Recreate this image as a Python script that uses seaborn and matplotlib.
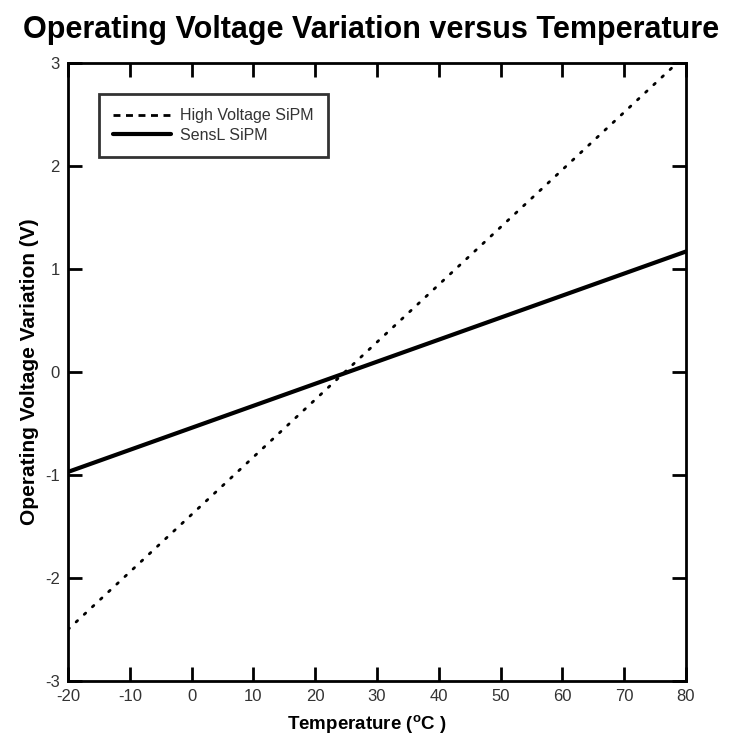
import numpy as np
import pandas as pd
import matplotlib
matplotlib.use("Agg")
import matplotlib.pyplot as plt
import seaborn as sns
from matplotlib.lines import Line2D

# data (straight lines, end points)
temps = [-20, 80]
hv_sipm = [-2.50, 3.08]
sensl_sipm = [-0.97, 1.17]
series_names = ["High Voltage SiPM", "SensL SiPM"]
x_ticks = [-20, -10, 0, 10, 20, 30, 40, 50, 60, 70, 80]
y_ticks = [-3, -2, -1, 0, 1, 2, 3]

df = pd.DataFrame({
    "Temperature": temps + temps,
    "Voltage": hv_sipm + sensl_sipm,
    "Device": [series_names[0]] * 2 + [series_names[1]] * 2,
})

sns.set_style("white")
plt.rcParams["font.family"] = ["Liberation Sans", "DejaVu Sans"]
plt.rcParams["mathtext.fontset"] = "custom"
plt.rcParams["mathtext.rm"] = "Liberation Sans:bold"
plt.rcParams["mathtext.bf"] = "Liberation Sans:bold"
plt.rcParams["axes.unicode_minus"] = False
plt.rcParams["text.color"] = "black"
plt.rcParams["axes.labelcolor"] = "black"

fig = plt.figure(figsize=(7.35, 7.36), dpi=100)
ax = fig.add_axes([0.0925, 0.0747, 0.8408, 0.8397])

sns.lineplot(data=df[df.Device == series_names[0]], x="Temperature", y="Voltage",
             color="black", lw=2.0, ax=ax, legend=False)
sns.lineplot(data=df[df.Device == series_names[1]], x="Temperature", y="Voltage",
             color="black", lw=3.0, ax=ax, legend=False)
ax.lines[0].set_linestyle((0, (0.7, 3.3)))
ax.lines[0].set_dash_capstyle("round")

ax.set_xlim(-20, 80)
ax.set_ylim(-3, 3)
ax.set_xticks(x_ticks)
ax.set_yticks(y_ticks)
ax.tick_params(direction="in", length=10, width=2, top=True, right=True,
               bottom=True, left=True,
               labelsize=12, colors="black", labelcolor="#333333", pad=6)
for s in ax.spines.values():
    s.set_linewidth(2)
    s.set_color("black")

ax.set_xlabel("Temperature ($^{\\mathrm{o}}$C )", fontsize=13.5, fontweight="bold")
ax.xaxis.set_label_coords(0.483, -0.052, transform=ax.transAxes)
ax.xaxis.label.set_va("top")
ax.set_ylabel("Operating Voltage Variation (V)", fontsize=15, fontweight="bold", labelpad=4)

handles = [Line2D([], [], color="black", lw=2, linestyle=(0, (2.5, 2))),
           Line2D([], [], color="black", lw=3)]
leg = ax.legend(handles, series_names, loc="upper left", bbox_to_anchor=(0.05, 0.95),
                fontsize=11.5, frameon=True, fancybox=False, handlelength=3.6,
                borderpad=0.9, labelspacing=0.3, handletextpad=0.6, borderaxespad=0)
leg.get_frame().set_edgecolor("black")
leg.get_frame().set_linewidth(2)
for t in leg.get_texts():
    t.set_color("#333333")

fig.suptitle("Operating Voltage Variation versus Temperature", fontsize=22,
             fontweight="bold", x=0.505, y=0.98, color="black")

fig.savefig("out.png", dpi=100)
